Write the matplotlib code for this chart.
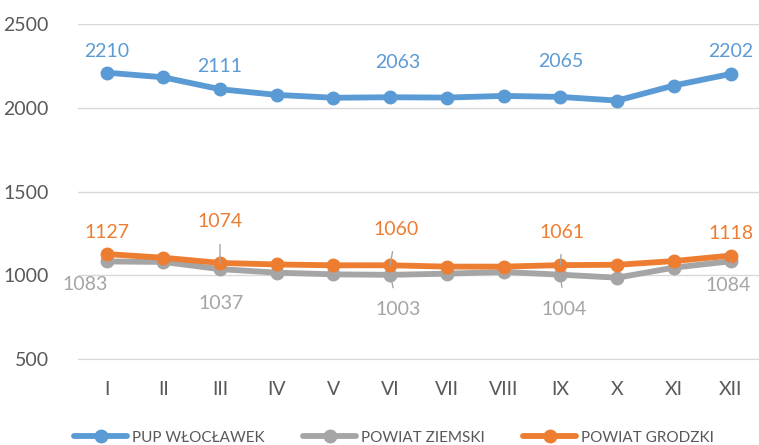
import matplotlib
matplotlib.use("Agg")
import matplotlib.pyplot as plt

plt.rcParams['font.family'] = ['Lato', 'DejaVu Sans']

months = ["I", "II", "III", "IV", "V", "VI", "VII", "VIII", "IX", "X", "XI", "XII"]
pup = [2210, 2182, 2111, 2077, 2060, 2063, 2061, 2071, 2065, 2043, 2133, 2202]
ziemski = [1083, 1080, 1037, 1016, 1006, 1003, 1010, 1020, 1004, 986, 1046, 1084]
grodzki = [1127, 1105, 1074, 1065, 1060, 1060, 1052, 1052, 1061, 1063, 1085, 1118]
series_names = ["PUP WŁOCŁAWEK", "POWIAT ZIEMSKI", "POWIAT GRODZKI"]
colors = ["#5B9BD5", "#A5A5A5", "#ED7D31"]
label_idx = [0, 2, 5, 8, 11]

fig = plt.figure(figsize=(7.59, 4.45), dpi=100)
ax = fig.add_axes([0.103, 0.193, 0.897, 0.753])
x = list(range(len(months)))

for vals, name, c in zip([pup, ziemski, grodzki], series_names, colors):
    ax.plot(x, vals, color=c, lw=4.2, marker='o', ms=9, label=name,
            solid_capstyle='round', zorder=3)

txt_kw = dict(textcoords='offset pixels', ha='center', va='center', fontsize=14)
lead_kw = dict(arrowstyle='-', color='#A6A6A6', lw=1, shrinkA=8, shrinkB=0)

# blue labels above
blue_off = {0: (0, 21), 2: (0, 23), 5: (8, 35), 8: (0, 35), 11: (0, 22)}
for i in label_idx:
    ax.annotate(str(pup[i]), (x[i], pup[i]), xytext=blue_off[i], color=colors[0], **txt_kw)

# orange labels above, some with leader lines
orange_off = {0: (0, 22), 2: (0, 41), 5: (6, 36), 8: (2, 33), 11: (0, 22)}
for i in label_idx:
    lead = i in (2, 5, 8)
    ax.annotate(str(grodzki[i]), (x[i], grodzki[i]), xytext=orange_off[i], color=colors[2],
                arrowprops=lead_kw if lead else None, **txt_kw)

# gray labels below
gray_off = {0: (-21, -23), 2: (1, -34), 5: (8, -35), 8: (4, -35), 11: (-3, -24)}
for i in label_idx:
    lead = i in (5, 8, 11)
    ax.annotate(str(ziemski[i]), (x[i], ziemski[i]), xytext=gray_off[i], color='#A5A5A5',
                arrowprops=lead_kw if lead else None, **txt_kw)

ax.set_ylim(500, 2500)
ax.set_yticks([500, 1000, 1500, 2000, 2500])
ax.set_xlim(-0.5, 11.5)
ax.set_xticks(x)
ax.set_xticklabels(months)
ax.grid(axis='y', color='#D9D9D9', lw=1)
ax.set_axisbelow(True)
for s in ['top', 'right', 'left']:
    ax.spines[s].set_visible(False)
ax.spines['bottom'].set_color('#D9D9D9')
ax.tick_params(axis='both', length=0, labelsize=14, colors='#595959')
ax.tick_params(axis='y', pad=21)
ax.tick_params(axis='x', pad=16)

fig.legend(loc='lower center', ncol=3, frameon=False, fontsize=11,
           bbox_to_anchor=(0.519, -0.03), handlelength=3.5, columnspacing=2.5,
           handletextpad=0.3, labelcolor='#595959')

fig.savefig("out.png", dpi=100)
